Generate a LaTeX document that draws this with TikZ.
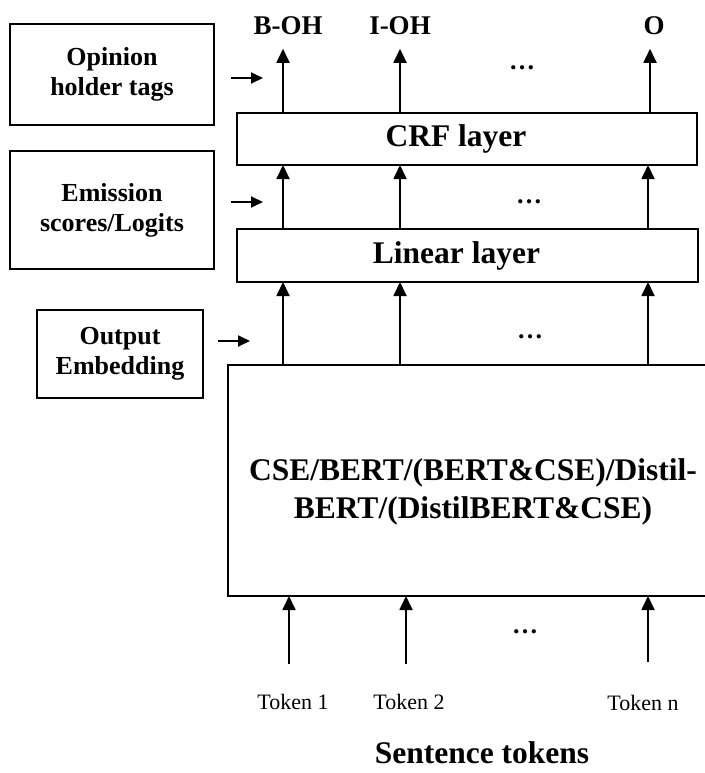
\documentclass[tikz,border=0pt]{standalone}
\usepackage{fontspec}
\setmainfont{Liberation Serif}
\usetikzlibrary{arrows.meta}
\tikzset{
  box/.style={draw, line width=1.8pt, inner sep=0pt, outer sep=0pt, align=center, font=\bfseries\fontsize{26}{30}\selectfont},
  layer/.style={box, font=\bfseries\fontsize{31.5}{38}\selectfont},
  arr/.style={line width=1.8pt, -{Triangle[length=14pt,width=13pt]}},
  sarr/.style={line width=1.8pt, -{Triangle[length=12pt,width=11pt]}},
  tag/.style={font=\bfseries\fontsize{27}{30}\selectfont, inner sep=0pt},
  dots/.style={font=\bfseries\fontsize{26}{30}\selectfont, inner sep=0pt},
  tok/.style={font=\fontsize{22}{26}\selectfont, inner sep=0pt}
}

\begin{document}
\begin{tikzpicture}[x=1pt,y=-1pt]
    \useasboundingbox (0,0) rectangle (704,773);
    % left boxes
    \node[box, minimum width=204pt, minimum height=101pt] (opin) at (112,74.5) {Opinion\\holder tags};
    \node[box, minimum width=204pt, minimum height=118pt] (emis) at (112,210) {Emission\\scores/Logits};
    \node[box, minimum width=166pt, minimum height=88pt] (outemb) at (120,354) {Output\\Embedding};
    % layers
    \node[layer, minimum width=460pt, minimum height=52pt] (crf) at (467,139) {\hspace*{-22pt}CRF layer};
    \node[layer, minimum width=461pt, minimum height=53pt] (lin) at (467.5,255.5) {\hspace*{-22pt}Linear layer};
    \node[layer, minimum width=478pt, minimum height=231pt] (main) at (467,480.5) {};
    \node[layer, draw=none] (mainlbl) at (473,492) {CSE/BERT/(BERT\&CSE)/Distil-\\BERT/(DistilBERT\&CSE)};
    % column positions
    \coordinate (c1) at (283,0);
    \coordinate (c2) at (400,0);
    \coordinate (c3) at (648,0);
    \coordinate (c4) at (650,0);
    % output tags
    \node[tag] (boh) at (288,25.5) {B-OH};
    \node[tag] (ioh) at (400,25.5) {I-OH};
    \node[tag] (otag) at (654,25.5) {O};
    % tokens
    \node[tok] (tok1) at (293,702) {Token 1};
    \node[tok] (tok2) at (409,702) {Token 2};
    \node[tok] (tokn) at (643,703) {Token n};
    \node[tag, font=\bfseries\fontsize{31.5}{36}\selectfont] (sent) at (482,753) {Sentence tokens};
    % dots
    \node[dots] (d1) at (522,68) {…};
    \node[dots] (d2) at (529,202) {…};
    \node[dots] (d3) at (530,337) {…};
    \node[dots] (d4) at (525,632) {…};
    % arrows
    \draw[arr, shorten >=14pt] (crf.north -| c1) -- (boh.south -| c1);
    \draw[arr, shorten >=14pt] (crf.north -| c2) -- (ioh.south -| c2);
    \draw[arr, shorten >=14pt] (crf.north -| c4) -- (otag.south -| c4);
    \draw[arr] (lin.north -| c1) -- (crf.south -| c1);
    \draw[arr] (lin.north -| c2) -- (crf.south -| c2);
    \draw[arr] (lin.north -| c3) -- (crf.south -| c3);
    \draw[arr] (main.north -| c1) -- (lin.south -| c1);
    \draw[arr] (main.north -| c2) -- (lin.south -| c2);
    \draw[arr] (main.north -| c3) -- (lin.south -| c3);
    \draw[arr, shorten <=30pt] ([xshift=-4pt]tok1.north) -- ([xshift=-4pt]main.south -| tok1);
    \draw[arr, shorten <=30pt] ([xshift=-3pt]tok2.north) -- ([xshift=-3pt]main.south -| tok2);
    \draw[arr, shorten <=33pt] ([xshift=5pt]tokn.north) -- ([xshift=5pt]main.south -| tokn);
    % side arrows
    \draw[sarr] ([xshift=17pt,yshift=-3.5pt]opin.east) -- ++(32,0);
    \draw[sarr] ([xshift=17pt,yshift=8pt]emis.east) -- ++(32,0);
    \draw[sarr] ([xshift=15pt,yshift=13pt]outemb.east) -- ++(32,0);
\end{tikzpicture}
\end{document}
